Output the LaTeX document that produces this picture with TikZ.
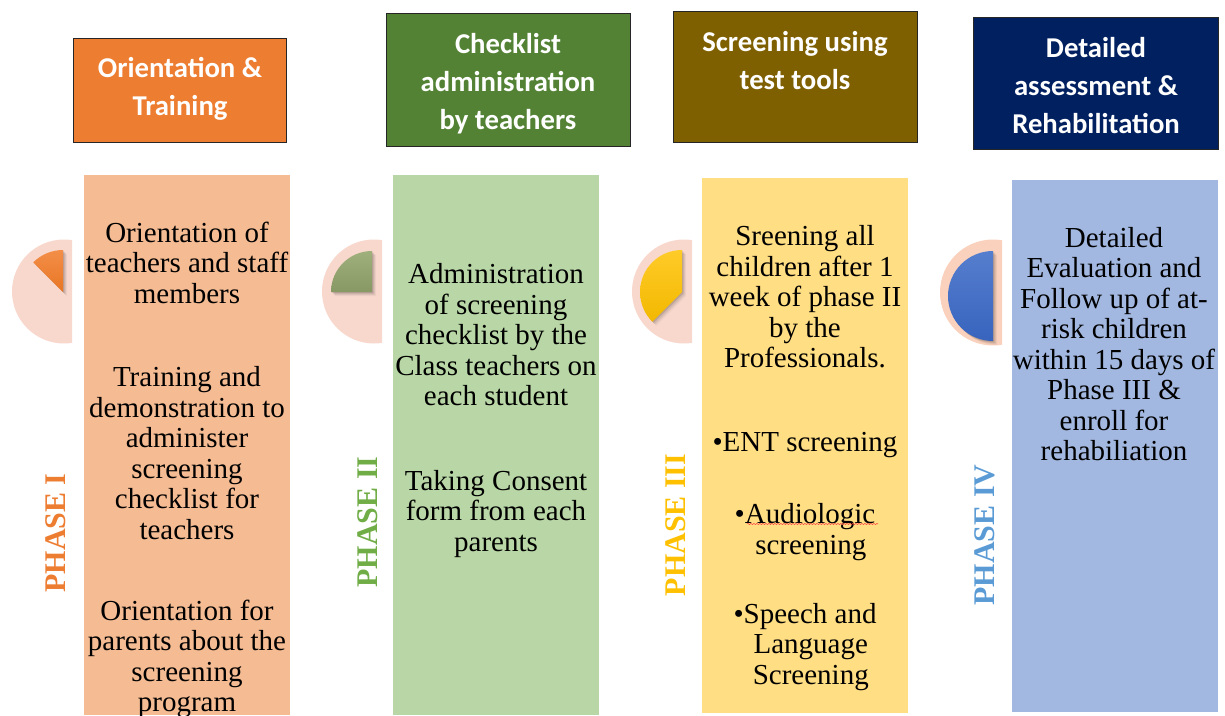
\documentclass[tikz,border=0pt]{standalone}
\usepackage{fontspec}
\setmainfont{Liberation Serif}
\newfontfamily\headfont{Carlito}
\usetikzlibrary{decorations.pathmorphing}

\definecolor{hdOrange}{HTML}{ED7D31}
\definecolor{hdGreen}{HTML}{548235}
\definecolor{hdBrown}{HTML}{7F6000}
\definecolor{hdNavy}{HTML}{002060}
\definecolor{colOrange}{HTML}{F5BC94}
\definecolor{colGreen}{HTML}{B9D7A6}
\definecolor{colYellow}{HTML}{FFDE84}
\definecolor{colBlue}{HTML}{A3B8E0}
\definecolor{discPink}{HTML}{F8D8CD}
\definecolor{lblOrange}{HTML}{ED7D31}
\definecolor{lblGreen}{HTML}{70AD47}
\definecolor{lblYellow}{HTML}{FFC000}
\definecolor{lblBlue}{HTML}{5B9BD5}
\definecolor{wOrangeT}{HTML}{F38E48}
\definecolor{wOrangeB}{HTML}{E87624}
\definecolor{wGreenT}{HTML}{A0B07C}
\definecolor{wGreenB}{HTML}{889864}
\definecolor{wYellowT}{HTML}{FFCB28}
\definecolor{wYellowB}{HTML}{F2B800}
\definecolor{wBlueT}{HTML}{567ECE}
\definecolor{wBlueB}{HTML}{3864BE}

% wedge: centre, radius, end angle (y axis points down, so angles are negated)
\newcommand{\wedgepath}[3]{(#1) -- ++(-90:#2) arc[start angle=-90, end angle=#3, radius=#2] -- cycle}

\begin{document}
\begin{tikzpicture}[x=1pt,y=-1pt,
  headbox/.style={draw=black!85, line width=0.8pt},
  headtext/.style={text=white, align=center, inner sep=0pt,
    font=\headfont\bfseries\fontsize{28.7}{38}\selectfont},
  body/.style={align=center, inner sep=0pt, text=black,
    font=\fontsize{29}{30.5}\selectfont},
  phaselbl/.style={rotate=90, inner sep=0pt,
    font=\bfseries\fontsize{30}{30}\selectfont}]

\useasboundingbox (0,0) rectangle (1225,715);

% header boxes
\fill[hdOrange] (73,38) rectangle (286,142);
\draw[headbox] (73,38) rectangle (286,142);
\fill[hdGreen] (386,13) rectangle (630,146);
\draw[headbox] (386,13) rectangle (630,146);
\fill[hdBrown] (673,11) rectangle (917,142);
\draw[headbox] (673,11) rectangle (917,142);
\fill[hdNavy] (973,17) rectangle (1218,149);
\draw[headbox] (973,17) rectangle (1218,149);

\node[headtext] (h1) at (180,89) {Orientation \&\\Training};
\node[headtext] (h2) at (508,83.5) {Checklist\\administration\\by teachers};
\node[headtext] (h3) at (795,61) {Screening using\\test tools};
\node[headtext] (h4) at (1096,85.5) {Detailed\\assessment \&\\Rehabilitation};

% phase columns
\fill[colOrange] (84,175) rectangle (290,715);
\fill[colGreen] (393,175) rectangle (599,715);
\fill[colYellow] (702,178) rectangle (908,713);
\fill[colBlue] (1012,180) rectangle (1218,712);

% progress discs
\begin{scope}
  \clip (0,230) rectangle (72,360);
  \fill[discPink] (64,291.5) circle[radius=52];
\end{scope}
\begin{scope}
  \clip (310,230) rectangle (382,360);
  \fill[discPink] (374,291.5) circle[radius=52];
\end{scope}
\begin{scope}
  \clip (620,230) rectangle (692,360);
  \fill[discPink] (684,291.5) circle[radius=52];
\end{scope}
\begin{scope}
  \clip (930,230) rectangle (1002,360);
  \fill[discPink!92!orange] (993,292.5) circle[radius=53];
\end{scope}

% soft shadows under the wedges
\foreach \d/\o in {1/0.10,2/0.08,3/0.06,4/0.04} {
  \fill[black, opacity=\o] \wedgepath{63+\d,292+\d}{42}{-135};
  \fill[black, opacity=\o] \wedgepath{372+\d,292+\d}{41}{-180};
  \fill[black, opacity=\o] \wedgepath{682+\d,292+\d}{42}{-225};
  \fill[black, opacity=\o] \wedgepath{993+\d,296+\d}{45}{-270};
}
% wedges
\shade[top color=wOrangeT, bottom color=wOrangeB] \wedgepath{63,292}{42}{-135};
\shade[top color=wGreenT, bottom color=wGreenB] \wedgepath{372,292}{41}{-180};
\shade[top color=wYellowT, bottom color=wYellowB] \wedgepath{682,292}{42}{-225};
\shade[top color=wBlueT, bottom color=wBlueB] \wedgepath{993,296}{45}{-270};

% phase labels
\node[phaselbl, text=lblOrange] (p1) at (56,533) {PHASE I};
\node[phaselbl, text=lblGreen] (p2) at (368,522) {PHASE II};
\node[phaselbl, text=lblYellow] (p3) at (676,525) {PHASE III};
\node[phaselbl, text=lblBlue] (p4) at (985,535) {PHASE IV};

% column texts
\node[body] (t11) at (187,262.5) {Orientation of\\teachers and staff\\members};
\node[body] (t12) at (187,453) {Training and\\demonstration to\\administer\\screening\\checklist for\\teachers};
\node[body] (t13) at (187,659) {Orientation for\\parents about the\\screening\\program};

\node[body] (t21) at (496,335) {Administration\\of screening\\checklist by the\\Class teachers on\\each student};
\node[body] (t22) at (496,514) {Taking Consent\\form from each\\parents};

\node[body] (t31) at (805,297) {Sreening all\\children after 1\\week of phase II\\by the\\Professionals.};
\node[body] (t32) at (805,445) {•ENT screening};
\node[body] (t33) at (805,532) {•Audiologic\\\hspace*{0.4em}screening};
\node[body] (t34) at (805,647) {•Speech and\\\hspace*{0.4em}Language\\\hspace*{0.4em}Screening};

\node[body] (t41) at (1114,344) {Detailed\\Evaluation and\\Follow up of at-\\risk children\\within 15 days of\\Phase III \&\\enroll for\\rehabiliation};

% spelling mark under "Audiologic"
\coordinate (sq1) at (747,524);
\coordinate (sq2) at (878,524);
\draw[red!75, line width=0.5pt, decorate,
  decoration={snake, segment length=3pt, amplitude=0.6pt}] (sq1) -- (sq2);

\end{tikzpicture}
\end{document}
